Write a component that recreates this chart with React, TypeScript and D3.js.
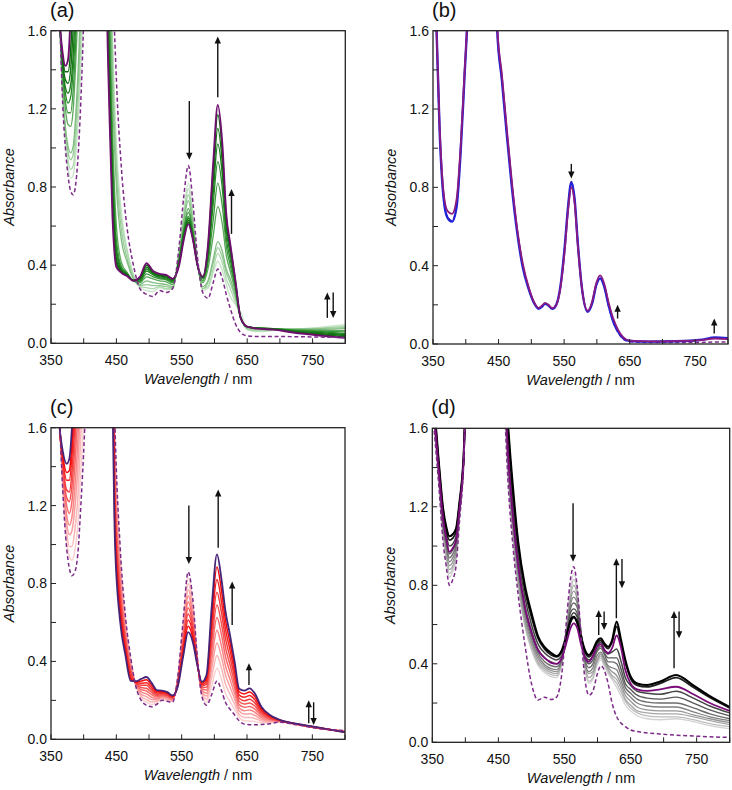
import React from "react";
import * as d3 from "d3";

const X_TICKS = [350, 400, 450, 500, 550, 600, 650, 700, 750, 800];
const X_TICK_LABELS = [350, 450, 550, 650, 750];
const Y_TICKS = [0, 0.2, 0.4, 0.6, 0.8, 1.0, 1.2, 1.4, 1.6];
const Y_TICK_LABELS = [0, 0.4, 0.8, 1.2, 1.6];

// ---------- panel (a) ----------
const WL_A = [355, 362, 368, 372, 376, 380, 384, 388, 393, 398, 405, 425, 438, 444, 450, 458, 466, 476, 486, 496, 506, 516, 526, 536, 546, 553, 560, 567, 574, 582, 590, 598, 605, 612, 618, 624, 632, 640, 650, 665, 690, 720, 760, 800];
const A_DASH = [3, 1.85, 1.22, 1.0, 0.86, 0.78, 0.76, 0.82, 1.05, 1.45, 2.2, 3, 3, 1.95, 1.35, 0.88, 0.6, 0.40, 0.28, 0.25, 0.24, 0.27, 0.26, 0.28, 0.50, 0.75, 0.91, 0.72, 0.44, 0.26, 0.23, 0.31, 0.38, 0.33, 0.25, 0.18, 0.10, 0.055, 0.038, 0.035, 0.035, 0.034, 0.032, 0.03];
const A_L1 = [3, 1.83, 1.26, 1.04, 0.9, 0.845, 0.86, 0.97, 1.22, 1.62, 2.5, 3, 2.5, 1.6, 1.02, 0.66, 0.49, 0.355, 0.285, 0.27, 0.265, 0.285, 0.275, 0.275, 0.48, 0.68, 0.82, 0.66, 0.42, 0.27, 0.28, 0.36, 0.42, 0.37, 0.30, 0.24, 0.20, 0.16, 0.07, 0.06, 0.065, 0.07, 0.082, 0.095];
const A_L2 = [3, 1.82, 1.27, 1.07, 0.94, 0.89, 0.91, 1.04, 1.32, 1.75, 2.7, 3, 2.4, 1.5, 0.95, 0.62, 0.47, 0.345, 0.29, 0.285, 0.28, 0.29, 0.28, 0.28, 0.47, 0.66, 0.79, 0.64, 0.42, 0.28, 0.29, 0.38, 0.46, 0.41, 0.33, 0.28, 0.21, 0.14, 0.07, 0.065, 0.068, 0.072, 0.078, 0.087];
const A_L3 = [3, 1.81, 1.28, 1.09, 0.98, 0.94, 0.97, 1.12, 1.42, 1.9, 2.9, 3, 2.3, 1.4, 0.88, 0.57, 0.44, 0.335, 0.295, 0.30, 0.295, 0.295, 0.29, 0.285, 0.46, 0.64, 0.76, 0.62, 0.41, 0.28, 0.31, 0.41, 0.49, 0.44, 0.36, 0.31, 0.23, 0.13, 0.075, 0.07, 0.072, 0.073, 0.075, 0.08];
const A_L4 = [3, 1.8, 1.29, 1.11, 1.01, 0.975, 1.01, 1.18, 1.52, 2.05, 3, 3, 2.2, 1.3, 0.8, 0.52, 0.42, 0.33, 0.30, 0.32, 0.31, 0.305, 0.30, 0.29, 0.45, 0.62, 0.73, 0.60, 0.41, 0.29, 0.32, 0.43, 0.52, 0.47, 0.38, 0.33, 0.24, 0.13, 0.08, 0.074, 0.074, 0.072, 0.072, 0.075];
const A_D1 = [3, 1.8, 1.36, 1.20, 1.12, 1.11, 1.2, 1.45, 1.9, 2.6, 3, 3, 1.95, 1.1, 0.6, 0.41, 0.365, 0.318, 0.31, 0.34, 0.33, 0.32, 0.315, 0.30, 0.44, 0.59, 0.69, 0.58, 0.40, 0.31, 0.38, 0.55, 0.70, 0.61, 0.45, 0.37, 0.26, 0.13, 0.085, 0.077, 0.075, 0.07, 0.067, 0.065];
const A_D2 = [3, 1.79, 1.38, 1.24, 1.18, 1.18, 1.3, 1.55, 2.0, 2.8, 3, 3, 1.8, 1.0, 0.53, 0.39, 0.36, 0.32, 0.315, 0.355, 0.34, 0.33, 0.325, 0.31, 0.43, 0.58, 0.67, 0.57, 0.40, 0.32, 0.41, 0.63, 0.82, 0.70, 0.50, 0.40, 0.28, 0.13, 0.085, 0.078, 0.075, 0.068, 0.063, 0.058];
const A_D3 = [3, 1.78, 1.40, 1.28, 1.23, 1.26, 1.4, 1.65, 2.2, 3, 3, 3, 1.7, 0.92, 0.49, 0.38, 0.358, 0.32, 0.32, 0.37, 0.35, 0.335, 0.33, 0.315, 0.43, 0.57, 0.65, 0.56, 0.40, 0.33, 0.43, 0.71, 0.93, 0.79, 0.54, 0.43, 0.29, 0.13, 0.085, 0.078, 0.075, 0.066, 0.06, 0.05];
const A_D4 = [3, 1.78, 1.42, 1.31, 1.28, 1.32, 1.48, 1.8, 2.4, 3, 3, 3, 1.6, 0.85, 0.46, 0.375, 0.355, 0.322, 0.325, 0.38, 0.355, 0.34, 0.335, 0.32, 0.42, 0.56, 0.64, 0.55, 0.40, 0.335, 0.45, 0.77, 1.02, 0.86, 0.58, 0.46, 0.30, 0.13, 0.085, 0.078, 0.074, 0.063, 0.055, 0.045];
const A_D5 = [3, 1.77, 1.44, 1.35, 1.33, 1.4, 1.62, 2.0, 2.6, 3, 3, 3, 1.5, 0.78, 0.43, 0.37, 0.352, 0.322, 0.33, 0.39, 0.36, 0.345, 0.34, 0.325, 0.42, 0.55, 0.63, 0.54, 0.40, 0.34, 0.47, 0.83, 1.10, 0.92, 0.61, 0.48, 0.31, 0.13, 0.085, 0.078, 0.073, 0.06, 0.05, 0.04];
const A_D6 = [3, 1.76, 1.46, 1.39, 1.39, 1.5, 1.8, 2.2, 2.8, 3, 3, 3, 1.42, 0.72, 0.41, 0.365, 0.35, 0.322, 0.335, 0.40, 0.365, 0.35, 0.345, 0.33, 0.41, 0.54, 0.62, 0.535, 0.40, 0.34, 0.49, 0.89, 1.17, 0.98, 0.64, 0.50, 0.32, 0.13, 0.085, 0.077, 0.072, 0.058, 0.045, 0.033];
const A_FINAL = [3, 1.75, 1.48, 1.42, 1.45, 1.68, 2.1, 2.6, 3, 3, 3, 3, 1.35, 0.65, 0.39, 0.36, 0.345, 0.32, 0.34, 0.41, 0.37, 0.355, 0.35, 0.33, 0.40, 0.53, 0.61, 0.53, 0.40, 0.34, 0.50, 0.92, 1.22, 1.02, 0.66, 0.51, 0.32, 0.13, 0.085, 0.075, 0.07, 0.055, 0.04, 0.028];
const A_ARROWS = [[561.5, 1.24, 0.94], [605, 1.26, 1.57], [626, 0.56, 0.79], [772.5, 0.13, 0.26], [781.5, 0.26, 0.13]];

// ---------- panel (b) ----------
const WL_B = [355, 360, 366, 372, 379, 386, 392, 398, 403, 410, 440, 448, 455, 462, 470, 478, 487, 496, 504, 511, 516, 521, 526, 532, 538, 545, 551, 556, 561, 566, 571, 577, 586, 593, 599, 605, 611, 618, 625, 632, 640, 650, 680, 720, 760, 780, 800];
const B_DASH = [1.65, 1.1, 0.75, 0.65, 0.63, 0.71, 0.98, 1.37, 1.7, 2.5, 3, 1.6, 1.35, 1.1, 0.82, 0.59, 0.4, 0.285, 0.212, 0.182, 0.192, 0.207, 0.198, 0.181, 0.2, 0.31, 0.5, 0.7, 0.83, 0.74, 0.51, 0.29, 0.166, 0.212, 0.3, 0.337, 0.296, 0.19, 0.11, 0.06, 0.025, 0.012, 0.008, 0.008, 0.008, 0.01, 0.01];
const B_BLUE = [1.65, 1.1, 0.75, 0.645, 0.625, 0.70, 0.97, 1.36, 1.7, 2.5, 3, 1.6, 1.35, 1.09, 0.81, 0.58, 0.39, 0.28, 0.21, 0.18, 0.19, 0.205, 0.197, 0.18, 0.2, 0.31, 0.5, 0.7, 0.825, 0.74, 0.51, 0.29, 0.165, 0.21, 0.3, 0.335, 0.295, 0.195, 0.115, 0.065, 0.03, 0.015, 0.012, 0.014, 0.022, 0.034, 0.03];
const B_FINAL = [1.65, 1.12, 0.78, 0.68, 0.665, 0.74, 1.0, 1.38, 1.7, 2.5, 3, 1.62, 1.38, 1.12, 0.84, 0.6, 0.41, 0.29, 0.215, 0.185, 0.195, 0.21, 0.2, 0.183, 0.2, 0.3, 0.48, 0.68, 0.80, 0.72, 0.5, 0.29, 0.17, 0.22, 0.31, 0.35, 0.31, 0.21, 0.13, 0.075, 0.035, 0.017, 0.013, 0.015, 0.02, 0.028, 0.025];
const B_ARROWS = [[561, 0.92, 0.845], [631.6, 0.13, 0.2], [779, 0.054, 0.13]];

// ---------- panel (c) ----------
const WL_C = [355, 362, 368, 374, 378, 382, 386, 391, 396, 401, 410, 440, 448, 456, 464, 472, 480, 488, 496, 504, 512, 520, 528, 536, 544, 552, 560, 567, 574, 581, 588, 596, 604, 611, 617, 624, 631, 638, 646, 654, 662, 672, 685, 700, 725, 760, 800];
const C_DASH = [2.6, 1.75, 1.28, 0.98, 0.88, 0.84, 0.855, 0.95, 1.22, 1.55, 2.4, 3, 1.6, 0.98, 0.63, 0.42, 0.27, 0.2, 0.175, 0.167, 0.18, 0.2, 0.195, 0.19, 0.32, 0.6, 0.86, 0.72, 0.42, 0.22, 0.175, 0.23, 0.30, 0.25, 0.19, 0.155, 0.125, 0.095, 0.078, 0.075, 0.075, 0.076, 0.08, 0.088, 0.075, 0.055, 0.045];
const C_R1 = [2.4, 1.74, 1.30, 1.02, 0.94, 0.92, 0.96, 1.10, 1.40, 1.70, 2.7, 3, 1.54, 0.94, 0.61, 0.41, 0.273, 0.211, 0.19, 0.179, 0.187, 0.205, 0.2, 0.194, 0.315, 0.582, 0.829, 0.698, 0.416, 0.228, 0.19, 0.275, 0.365, 0.307, 0.237, 0.193, 0.153, 0.112, 0.095, 0.094, 0.091, 0.085, 0.085, 0.089, 0.076, 0.056, 0.044];
const C_R2 = [2.4, 1.73, 1.32, 1.07, 0.99, 0.99, 1.06, 1.24, 1.58, 1.84, 2.7, 3, 1.48, 0.90, 0.59, 0.40, 0.276, 0.222, 0.204, 0.192, 0.195, 0.21, 0.204, 0.197, 0.31, 0.564, 0.798, 0.676, 0.412, 0.235, 0.206, 0.32, 0.43, 0.364, 0.284, 0.231, 0.18, 0.128, 0.112, 0.112, 0.107, 0.094, 0.089, 0.09, 0.077, 0.056, 0.043];
const C_R3 = [2.4, 1.72, 1.34, 1.11, 1.05, 1.07, 1.17, 1.39, 1.75, 1.99, 2.7, 3, 1.42, 0.87, 0.57, 0.38, 0.278, 0.233, 0.219, 0.204, 0.202, 0.215, 0.209, 0.201, 0.305, 0.546, 0.767, 0.654, 0.408, 0.243, 0.222, 0.365, 0.495, 0.421, 0.331, 0.269, 0.208, 0.145, 0.13, 0.131, 0.123, 0.103, 0.094, 0.092, 0.077, 0.057, 0.042];
const C_R4 = [2.4, 1.71, 1.36, 1.15, 1.10, 1.14, 1.27, 1.53, 1.93, 2.13, 2.7, 3, 1.36, 0.83, 0.55, 0.37, 0.281, 0.244, 0.233, 0.216, 0.209, 0.22, 0.214, 0.204, 0.30, 0.528, 0.736, 0.632, 0.404, 0.25, 0.237, 0.41, 0.56, 0.478, 0.378, 0.307, 0.235, 0.161, 0.147, 0.15, 0.139, 0.112, 0.098, 0.093, 0.078, 0.057, 0.041];
const C_R5 = [2.4, 1.70, 1.38, 1.20, 1.16, 1.22, 1.38, 1.68, 2.11, 2.28, 2.7, 3, 1.30, 0.79, 0.53, 0.36, 0.284, 0.255, 0.248, 0.229, 0.217, 0.225, 0.219, 0.208, 0.295, 0.51, 0.705, 0.61, 0.40, 0.258, 0.253, 0.455, 0.625, 0.535, 0.425, 0.345, 0.263, 0.178, 0.164, 0.169, 0.155, 0.122, 0.103, 0.094, 0.078, 0.058, 0.04];
const C_R6 = [2.4, 1.69, 1.40, 1.24, 1.22, 1.30, 1.48, 1.82, 2.29, 2.42, 2.7, 3, 1.24, 0.75, 0.51, 0.35, 0.287, 0.266, 0.262, 0.241, 0.224, 0.23, 0.223, 0.211, 0.29, 0.492, 0.674, 0.588, 0.396, 0.265, 0.268, 0.50, 0.69, 0.592, 0.472, 0.383, 0.29, 0.194, 0.181, 0.187, 0.171, 0.131, 0.107, 0.095, 0.078, 0.058, 0.039];
const C_R7 = [2.4, 1.68, 1.42, 1.28, 1.27, 1.37, 1.59, 1.97, 2.47, 2.57, 2.7, 3, 1.18, 0.71, 0.49, 0.34, 0.29, 0.277, 0.277, 0.253, 0.231, 0.235, 0.228, 0.215, 0.285, 0.474, 0.643, 0.566, 0.392, 0.273, 0.284, 0.545, 0.755, 0.649, 0.519, 0.421, 0.318, 0.211, 0.198, 0.206, 0.187, 0.14, 0.112, 0.096, 0.079, 0.059, 0.038];
const C_R8 = [2.4, 1.67, 1.44, 1.33, 1.33, 1.45, 1.69, 2.11, 2.64, 2.71, 2.7, 3, 1.12, 0.68, 0.47, 0.32, 0.292, 0.288, 0.291, 0.265, 0.238, 0.24, 0.233, 0.218, 0.28, 0.456, 0.612, 0.544, 0.388, 0.28, 0.299, 0.59, 0.82, 0.706, 0.566, 0.459, 0.345, 0.227, 0.216, 0.225, 0.203, 0.149, 0.116, 0.098, 0.079, 0.059, 0.037];
const C_R9 = [2.4, 1.66, 1.46, 1.37, 1.38, 1.52, 1.80, 2.26, 2.82, 2.86, 2.7, 3, 1.06, 0.64, 0.45, 0.31, 0.295, 0.299, 0.306, 0.278, 0.246, 0.245, 0.237, 0.222, 0.275, 0.438, 0.581, 0.522, 0.384, 0.288, 0.315, 0.635, 0.885, 0.763, 0.613, 0.497, 0.373, 0.244, 0.233, 0.243, 0.219, 0.158, 0.121, 0.099, 0.08, 0.06, 0.036];
const C_FINAL = [2.2, 1.65, 1.48, 1.415, 1.44, 1.6, 1.9, 2.4, 3, 3, 3, 2.5, 1.0, 0.6, 0.43, 0.30, 0.298, 0.31, 0.32, 0.29, 0.253, 0.25, 0.242, 0.225, 0.27, 0.42, 0.55, 0.5, 0.38, 0.295, 0.33, 0.68, 0.95, 0.82, 0.66, 0.535, 0.40, 0.26, 0.25, 0.262, 0.235, 0.167, 0.125, 0.10, 0.08, 0.06, 0.035];
const C_ARROWS = [[561, 1.2, 0.9], [605.9, 0.984, 1.283], [627.3, 0.587, 0.81], [653, 0.279, 0.39], [744.5, 0.082, 0.2], [752, 0.19, 0.074]];

// ---------- panel (d) ----------
const WL_D = [352, 360, 366, 371, 376, 381, 386, 391, 397, 405, 440, 458, 465, 472, 480, 490, 500, 510, 520, 530, 538, 546, 554, 559, 564, 569, 575, 581, 587, 593, 599, 605, 610, 616, 622, 629, 635, 642, 650, 660, 675, 695, 719, 745, 770, 800];
const D_DASH = [1.62, 1.3, 1.03, 0.9, 0.80, 0.83, 0.9, 1.12, 1.38, 2.2, 3, 1.8, 1.3, 1.0, 0.75, 0.5, 0.3, 0.215, 0.23, 0.218, 0.23, 0.35, 0.66, 0.83, 0.895, 0.8, 0.55, 0.32, 0.24, 0.26, 0.34, 0.39, 0.37, 0.30, 0.2, 0.13, 0.1, 0.08, 0.063, 0.055, 0.048, 0.042, 0.036, 0.032, 0.028, 0.025];
const D_G1 = [1.64, 1.32, 1.06, 0.93, 0.84, 0.87, 0.93, 1.14, 1.39, 2.2, 3, 1.82, 1.34, 1.04, 0.79, 0.59, 0.47, 0.39, 0.355, 0.335, 0.33, 0.40, 0.62, 0.78, 0.86, 0.79, 0.56, 0.37, 0.30, 0.32, 0.39, 0.42, 0.39, 0.35, 0.32, 0.28, 0.24, 0.19, 0.16, 0.135, 0.12, 0.115, 0.12, 0.105, 0.085, 0.07];
const D_G2 = [1.65, 1.33, 1.07, 0.95, 0.86, 0.885, 0.945, 1.145, 1.39, 2.2, 3, 1.83, 1.35, 1.05, 0.80, 0.60, 0.48, 0.40, 0.365, 0.345, 0.34, 0.40, 0.61, 0.76, 0.83, 0.77, 0.56, 0.38, 0.31, 0.33, 0.40, 0.43, 0.40, 0.36, 0.33, 0.30, 0.26, 0.21, 0.175, 0.15, 0.135, 0.13, 0.13, 0.115, 0.095, 0.08];
const D_G3 = [1.66, 1.34, 1.08, 0.96, 0.88, 0.90, 0.96, 1.15, 1.40, 2.2, 3, 1.84, 1.37, 1.07, 0.82, 0.61, 0.495, 0.41, 0.375, 0.355, 0.35, 0.41, 0.60, 0.74, 0.80, 0.75, 0.56, 0.39, 0.33, 0.35, 0.41, 0.44, 0.41, 0.37, 0.34, 0.32, 0.28, 0.22, 0.19, 0.16, 0.15, 0.145, 0.145, 0.13, 0.11, 0.09];
const D_G4 = [1.67, 1.35, 1.10, 0.98, 0.90, 0.92, 0.975, 1.16, 1.40, 2.2, 3, 1.85, 1.39, 1.09, 0.84, 0.63, 0.51, 0.425, 0.385, 0.365, 0.36, 0.41, 0.59, 0.72, 0.77, 0.73, 0.56, 0.40, 0.35, 0.36, 0.42, 0.45, 0.42, 0.38, 0.36, 0.34, 0.30, 0.24, 0.21, 0.18, 0.165, 0.16, 0.16, 0.14, 0.12, 0.10];
const D_G5 = [1.68, 1.36, 1.11, 1.0, 0.92, 0.94, 0.99, 1.17, 1.405, 2.2, 3, 1.86, 1.41, 1.11, 0.86, 0.65, 0.525, 0.44, 0.395, 0.375, 0.37, 0.42, 0.58, 0.70, 0.74, 0.71, 0.56, 0.41, 0.36, 0.38, 0.44, 0.46, 0.43, 0.39, 0.38, 0.37, 0.32, 0.26, 0.23, 0.20, 0.185, 0.18, 0.18, 0.155, 0.13, 0.11];
const D_G6 = [1.69, 1.37, 1.12, 1.01, 0.94, 0.96, 1.005, 1.175, 1.41, 2.2, 3, 1.88, 1.43, 1.13, 0.88, 0.67, 0.545, 0.455, 0.41, 0.39, 0.385, 0.42, 0.57, 0.68, 0.71, 0.69, 0.56, 0.42, 0.38, 0.40, 0.46, 0.48, 0.45, 0.41, 0.41, 0.40, 0.35, 0.28, 0.25, 0.22, 0.205, 0.2, 0.2, 0.175, 0.145, 0.12];
const D_G7 = [1.70, 1.38, 1.14, 1.03, 0.96, 0.98, 1.02, 1.18, 1.41, 2.2, 3, 1.9, 1.46, 1.16, 0.91, 0.7, 0.57, 0.475, 0.43, 0.41, 0.40, 0.43, 0.56, 0.66, 0.68, 0.66, 0.55, 0.43, 0.40, 0.42, 0.47, 0.49, 0.46, 0.43, 0.43, 0.43, 0.38, 0.30, 0.27, 0.24, 0.225, 0.22, 0.23, 0.2, 0.165, 0.135];
const D_G8 = [1.72, 1.40, 1.17, 1.06, 1.0, 1.01, 1.05, 1.2, 1.42, 2.2, 3, 1.93, 1.5, 1.2, 0.95, 0.74, 0.6, 0.5, 0.455, 0.43, 0.42, 0.44, 0.55, 0.63, 0.66, 0.64, 0.55, 0.44, 0.42, 0.44, 0.49, 0.51, 0.475, 0.45, 0.46, 0.475, 0.42, 0.33, 0.29, 0.26, 0.25, 0.245, 0.26, 0.225, 0.185, 0.15];
const D_B1 = [1.74, 1.41, 1.19, 1.08, 1.03, 1.04, 1.075, 1.21, 1.425, 2.2, 3, 1.98, 1.57, 1.27, 1.0, 0.78, 0.64, 0.53, 0.475, 0.445, 0.435, 0.46, 0.55, 0.61, 0.635, 0.61, 0.535, 0.46, 0.435, 0.46, 0.505, 0.52, 0.495, 0.478, 0.51, 0.59, 0.51, 0.41, 0.325, 0.29, 0.282, 0.30, 0.33, 0.28, 0.228, 0.175];
const D_B2 = [1.75, 1.42, 1.2, 1.1, 1.05, 1.06, 1.09, 1.22, 1.43, 2.2, 3, 2.0, 1.6, 1.3, 1.02, 0.8, 0.66, 0.54, 0.485, 0.455, 0.44, 0.47, 0.56, 0.62, 0.64, 0.615, 0.54, 0.47, 0.445, 0.47, 0.515, 0.53, 0.505, 0.487, 0.52, 0.615, 0.53, 0.42, 0.335, 0.30, 0.292, 0.31, 0.343, 0.29, 0.235, 0.18];
const D_FINAL = [1.71, 1.38, 1.15, 1.04, 0.97, 0.99, 1.03, 1.19, 1.41, 2.2, 3, 1.9, 1.45, 1.15, 0.9, 0.69, 0.56, 0.47, 0.43, 0.405, 0.40, 0.43, 0.52, 0.58, 0.606, 0.585, 0.5, 0.43, 0.41, 0.44, 0.485, 0.50, 0.472, 0.455, 0.48, 0.545, 0.49, 0.37, 0.3, 0.27, 0.262, 0.27, 0.283, 0.245, 0.2, 0.16];
const D_ARROWS = [[563, 1.218, 0.92], [601.8, 0.547, 0.674], [610, 0.666, 0.572], [628.5, 0.632, 0.938], [637, 0.934, 0.785], [715.8, 0.377, 0.669], [723.4, 0.666, 0.53]];

type Series = { values: number[]; color: string; width: number; dash?: string };
type PanelSpec = {
  id: string; label: string; x0: number; x1: number; y0: number; y1: number;
  wl: number[]; series: Series[]; arrows: number[][];
};

const FONT = "'Liberation Sans', Arial, Helvetica, sans-serif";
const DASH_COLOR = "#7d2a88";
const DASH = "4 2.6";

const redScale = d3.interpolateRgb("#fbd0d0", "#f20a0a");
const C_STEPS = [C_R1, C_R2, C_R3, C_R4, C_R5, C_R6, C_R7, C_R8, C_R9];

const PANELS: PanelSpec[] = [
  {
    id: "a", label: "(a)", x0: 51, x1: 345.3, y0: 30.7, y1: 343.3, wl: WL_A, arrows: A_ARROWS,
    series: [
      { values: A_L1, color: "#c6e4c6", width: 1.3 },
      { values: A_L2, color: "#b0d8b0", width: 1.3 },
      { values: A_L3, color: "#98cb98", width: 1.3 },
      { values: A_L4, color: "#80bd80", width: 1.3 },
      { values: A_D1, color: "#5aa85a", width: 1.3 },
      { values: A_D2, color: "#3f993f", width: 1.3 },
      { values: A_D3, color: "#2a8a2a", width: 1.3 },
      { values: A_D4, color: "#1c7d1c", width: 1.4 },
      { values: A_D5, color: "#127212", width: 1.4 },
      { values: A_D6, color: "#0a680a", width: 1.5 },
      { values: A_FINAL, color: "#6e0f6e", width: 1.9 },
      { values: A_DASH, color: DASH_COLOR, width: 1.5, dash: DASH },
    ],
  },
  {
    id: "b", label: "(b)", x0: 433, x1: 728, y0: 30.7, y1: 344, wl: WL_B, arrows: B_ARROWS,
    series: [
      { values: B_DASH, color: DASH_COLOR, width: 1.5, dash: DASH },
      { values: B_BLUE, color: "#2222d8", width: 2.4 },
      { values: B_FINAL, color: "#8a1a80", width: 1.8 },
    ],
  },
  {
    id: "c", label: "(c)", x0: 51, x1: 345, y0: 427.7, y1: 739.3, wl: WL_C, arrows: C_ARROWS,
    series: [
      ...C_STEPS.map((v, i) => ({ values: v, color: redScale(i / (C_STEPS.length - 1)), width: 1.5 })),
      { values: C_FINAL, color: "#452478", width: 1.8 },
      { values: C_DASH, color: DASH_COLOR, width: 1.5, dash: DASH },
    ],
  },
  {
    id: "d", label: "(d)", x0: 432.3, x1: 729.7, y0: 428.3, y1: 742.3, wl: WL_D, arrows: D_ARROWS,
    series: [
      { values: D_G1, color: "#d2d2d2", width: 1.3 },
      { values: D_G2, color: "#bdbdbd", width: 1.3 },
      { values: D_G3, color: "#a8a8a8", width: 1.3 },
      { values: D_G4, color: "#959595", width: 1.3 },
      { values: D_G5, color: "#808080", width: 1.3 },
      { values: D_G6, color: "#6c6c6c", width: 1.4 },
      { values: D_G7, color: "#585858", width: 1.4 },
      { values: D_G8, color: "#444444", width: 1.5 },
      { values: D_B1, color: "#1e1e1e", width: 1.8 },
      { values: D_B2, color: "#000000", width: 2.1 },
      { values: D_FINAL, color: "#7a0a7a", width: 1.8 },
      { values: D_DASH, color: DASH_COLOR, width: 1.5, dash: DASH },
    ],
  },
];

function Arrow({ x, ya, yb }: { x: number; ya: number; yb: number }) {
  const dir = yb < ya ? -1 : 1;
  const head = 7;
  const hw = 3.2;
  return (
    <g>
      <line x1={x} x2={x} y1={ya} y2={yb - dir * head * 0.7} stroke="#111" strokeWidth={1.4} />
      <path d={`M${x},${yb} L${x - hw},${yb - dir * head} L${x + hw},${yb - dir * head} Z`} fill="#111" />
    </g>
  );
}

function Panel({ p }: { p: PanelSpec }) {
  const x = d3.scaleLinear().domain([350, 800]).range([p.x0, p.x1]);
  const y = d3.scaleLinear().domain([0, 1.6]).range([p.y1, p.y0]);
  const line = d3
    .line<number>()
    .x((_, i) => x(p.wl[i]))
    .y((v) => y(v))
    .curve(d3.curveMonotoneX);
  const clipId = `clip-${p.id}`;
  const cx = (p.x0 + p.x1) / 2;
  const cy = (p.y0 + p.y1) / 2;
  return (
    <g>
      <defs>
        <clipPath id={clipId}>
          <rect x={p.x0} y={p.y0} width={p.x1 - p.x0} height={p.y1 - p.y0} />
        </clipPath>
      </defs>
      <g clipPath={`url(#${clipId})`}>
        {p.series.map((s, i) => (
          <path
            key={i}
            d={line(s.values) || ""}
            fill="none"
            stroke={s.color}
            strokeWidth={s.width}
            strokeDasharray={s.dash}
            strokeLinejoin="round"
          />
        ))}
      </g>
      {p.arrows.map((a, i) => (
        <Arrow key={i} x={x(a[0])} ya={y(a[1])} yb={y(a[2])} />
      ))}
      {X_TICKS.map((t) => (
        <line key={`xt${t}`} x1={x(t)} x2={x(t)} y1={p.y1} y2={p.y1 - 5} stroke="#222" strokeWidth={1} />
      ))}
      {Y_TICKS.map((t) => (
        <line key={`yt${t}`} x1={p.x0} x2={p.x0 + 5} y1={y(t)} y2={y(t)} stroke="#222" strokeWidth={1} />
      ))}
      <rect x={p.x0} y={p.y0} width={p.x1 - p.x0} height={p.y1 - p.y0} fill="none" stroke="#222" strokeWidth={1.3} />
      {X_TICK_LABELS.map((t) => (
        <text key={`xl${t}`} x={x(t)} y={p.y1 + 22} textAnchor="middle" fontSize={14} fontFamily={FONT} fill="#111">
          {t}
        </text>
      ))}
      {Y_TICK_LABELS.map((t) => (
        <text key={`yl${t}`} x={p.x0 - 4} y={y(t)} dy="0.35em" textAnchor="end" fontSize={14} fontFamily={FONT} fill="#111">
          {t.toFixed(1)}
        </text>
      ))}
      <text x={cx} y={p.y1 + 41} textAnchor="middle" fontSize={14.5} fontFamily={FONT} fill="#111">
        <tspan fontStyle="italic">Wavelength</tspan>
        <tspan> / nm</tspan>
      </text>
      <text
        transform={`translate(${p.x0 - 37},${cy}) rotate(-90)`}
        textAnchor="middle"
        fontSize={14.5}
        fontStyle="italic"
        fontFamily={FONT}
        fill="#111"
      >
        Absorbance
      </text>
      <text x={p.x0 - 1} y={p.y0 - 14} fontSize={20} fontFamily={FONT} fill="#111">
        {p.label}
      </text>
    </g>
  );
}

export default function App() {
  return (
    <svg
      width={732}
      height={790}
      viewBox="0 0 732 790"
      style={{ position: "absolute", left: 0, top: 0, background: "#fff" }}
    >
      <rect x={0} y={0} width={732} height={790} fill="#fff" />
      {PANELS.map((p) => (
        <Panel key={p.id} p={p} />
      ))}
    </svg>
  );
}
